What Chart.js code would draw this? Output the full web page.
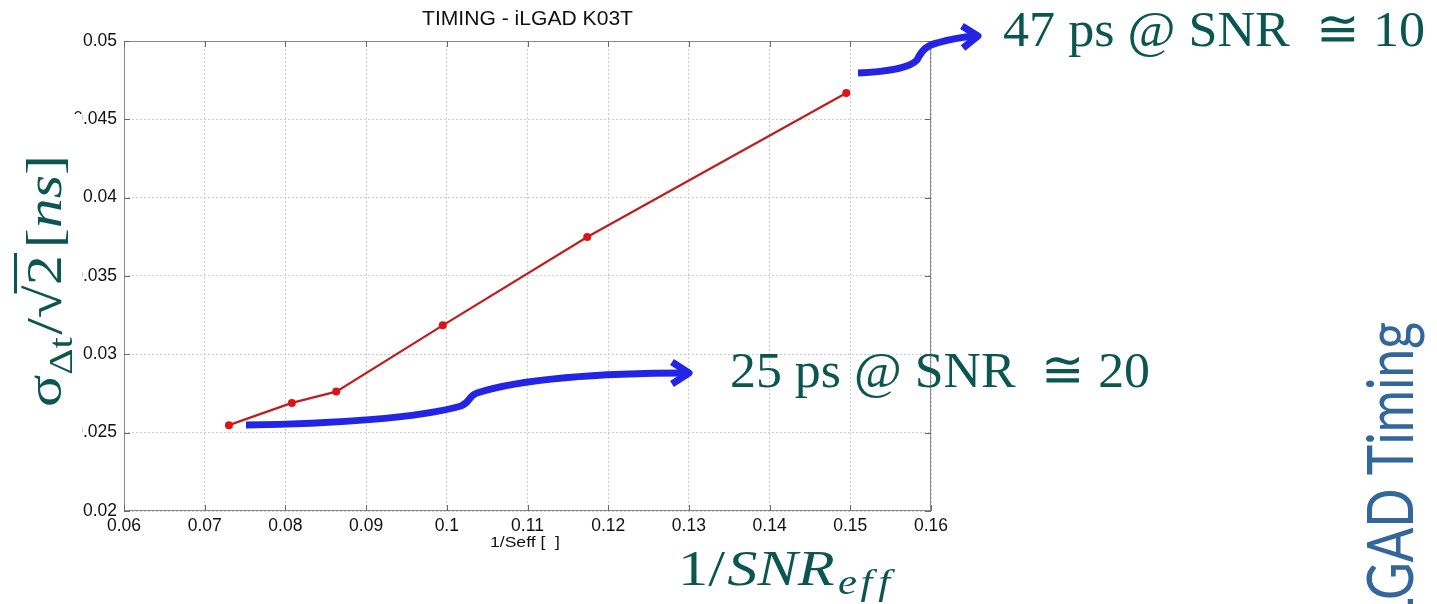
<!DOCTYPE html>
<html><head><meta charset="utf-8">
<script src="https://cdn.jsdelivr.net/npm/chart.js@4.4.1/dist/chart.umd.min.js"></script>
<style>html,body{margin:0;padding:0;background:#fff;overflow:hidden}</style>
</head><body>
<canvas id="c" width="1437" height="604"></canvas>
<script>
// ---- data ----
const invSNR = [0.0730, 0.0808, 0.0863, 0.0995, 0.1174, 0.1495];
const sigmaNs = [0.02548, 0.02690, 0.02762, 0.03185, 0.03749, 0.04668];
const xTickValues = [0.06, 0.07, 0.08, 0.09, 0.10, 0.11, 0.12, 0.13, 0.14, 0.15, 0.16];
const xTickLabels = ['0.06','0.07','0.08','0.09','0.1','0.11','0.12','0.13','0.14','0.15','0.16'];
const yTickValues = [0.02, 0.025, 0.03, 0.035, 0.04, 0.045, 0.05];
const yTickLabels = ['0.02','0.025','0.03','0.035','0.04','0.045','0.05'];
const chartTitle = 'TIMING - iLGAD K03T';
const xAxisTitle = '1/Seff [  ]';
const noteHigh = '47 ps @ SNR  \u2245 10';
const noteLow = '25 ps @ SNR  \u2245 20';
const sideTitle = 'LGAD Timing';

const TEAL = '#0b5651';
const BLUE = '#2424e6';
const SERIF = '"Liberation Serif", "DejaVu Serif", serif';
const SANS = '"Liberation Sans", Arial, sans-serif';

function fitText(ctx, text, x, y, w, align) {
  const m = ctx.measureText(text).width;
  ctx.save();
  ctx.translate(x, y);
  ctx.scale(w / m, 1);
  ctx.textAlign = align;
  ctx.fillText(text, 0, 0);
  ctx.restore();
}

function drawPieces(ctx, pieces, targetW) {
  let total = 0;
  pieces.forEach(p => { ctx.font = p.font; p.w = ctx.measureText(p.t).width; total += p.w + (p.gap || 0); });
  const s = targetW / total;
  ctx.save();
  ctx.scale(s, 1);
  let x = 0;
  pieces.forEach(p => {
    ctx.font = p.font;
    ctx.textAlign = 'left';
    ctx.fillText(p.t, x, p.dy || 0);
    x += p.w + (p.gap || 0);
    p.end = x;
  });
  ctx.restore();
  return {s, pieces};
}

const decor = {
  id: 'decor',
  afterDraw(chart) {
    const ctx = chart.ctx;
    const a = chart.chartArea;
    const xs = chart.scales.x, ys = chart.scales.y;

    // white patch behind big y label
    ctx.save();
    ctx.fillStyle = '#fff';
    ctx.fillRect(0, 114, 82, 332);
    ctx.restore();

    // frame + inward ticks
    ctx.save();
    ctx.strokeStyle = '#8a8a8a';
    ctx.lineWidth = 1;
    ctx.strokeRect(a.left + 0.5, a.top + 0.5, a.right - a.left - 1, a.bottom - a.top - 1);
    ctx.strokeStyle = '#6a6a6a';
    ctx.beginPath();
    xTickValues.forEach(v => {
      const px = Math.round(xs.getPixelForValue(v)) + 0.5;
      ctx.moveTo(px, a.bottom); ctx.lineTo(px, a.bottom - 6);
      ctx.moveTo(px, a.top); ctx.lineTo(px, a.top + 6);
    });
    yTickValues.forEach(v => {
      const py = Math.round(ys.getPixelForValue(v)) + 0.5;
      ctx.moveTo(a.left, py); ctx.lineTo(a.left + 6, py);
      ctx.moveTo(a.right, py); ctx.lineTo(a.right - 6, py);
    });
    ctx.stroke();
    ctx.restore();

    // plot title and small x title
    ctx.save();
    ctx.fillStyle = '#111';
    ctx.textBaseline = 'alphabetic';
    ctx.font = '21px ' + SANS;
    fitText(ctx, chartTitle, (a.left + a.right) / 2, 25, 211, 'center');
    ctx.font = '15px ' + SANS;
    fitText(ctx, xAxisTitle, 490, 547, 70, 'left');
    ctx.restore();

    // annotations
    ctx.save();
    ctx.fillStyle = TEAL;
    ctx.textBaseline = 'alphabetic';
    ctx.font = '51px ' + SERIF;
    fitText(ctx, noteHigh, 1003, 46, 422, 'left');
    fitText(ctx, noteLow, 730, 387, 420, 'left');
    ctx.restore();

    // 1/SNR_eff
    ctx.save();
    ctx.fillStyle = TEAL;
    ctx.translate(678, 585);
    drawPieces(ctx, [
      {t: '1/', font: '51px ' + SERIF, gap: 2},
      {t: 'SNR', font: 'italic 51px ' + SERIF, gap: 3},
      {t: 'e', font: 'italic 36px ' + SERIF, dy: 9, gap: 3},
      {t: 'f', font: 'italic 36px ' + SERIF, dy: 9, gap: 5},
      {t: 'f', font: 'italic 36px ' + SERIF, dy: 9}
    ], 212);
    ctx.restore();

    // big rotated y label
    ctx.save();
    ctx.fillStyle = TEAL;
    ctx.translate(61, 407);
    ctx.rotate(-Math.PI / 2);
    const F = 50;
    const pcs = [
      {t: '\u03C3', font: F + 'px ' + SERIF},
      {t: '\u0394t', font: Math.round(F * 0.68) + 'px ' + SERIF, dy: 11, gap: 2},
      {t: '/', font: F + 'px ' + SERIF},
      {t: '\u221A', font: F + 'px ' + SERIF},
      {t: '2', font: F + 'px ' + SERIF, gap: 6},
      {t: '[', font: F + 'px ' + SERIF},
      {t: 'ns', font: 'italic ' + F + 'px ' + SERIF},
      {t: ']', font: F + 'px ' + SERIF}
    ];
    const r = drawPieces(ctx, pcs, 252);
    const rad = pcs[3], two = pcs[4];
    const barStart = (rad.end - rad.w * 0.25) * r.s;
    const barEnd = (two.end - 4) * r.s;
    ctx.fillRect(barStart, -47, barEnd - barStart, 3);
    ctx.restore();

    // side title (rotated, partially off-canvas)
    ctx.save();
    ctx.fillStyle = '#33679c';
    ctx.font = '400 64px Lato, "Open Sans", sans-serif';
    const sScale = 278 / ctx.measureText('GAD Timing').width;
    ctx.translate(1413, 322);
    ctx.rotate(-Math.PI / 2);
    ctx.scale(sScale, 1);
    ctx.textAlign = 'right';
    ctx.fillText(sideTitle, 0, 0);
    ctx.restore();

    // blue arrows
    ctx.save();
    ctx.strokeStyle = BLUE;
    ctx.lineWidth = 7;
    ctx.lineCap = 'butt';
    ctx.lineJoin = 'round';
    ctx.beginPath();
    ctx.moveTo(246, 425);
    ctx.bezierCurveTo(330, 424, 420, 418, 461, 406);
    ctx.bezierCurveTo(471, 402, 468, 396, 477, 393);
    ctx.bezierCurveTo(520, 379, 600, 373, 686, 373);
    ctx.stroke();
    ctx.beginPath();
    ctx.moveTo(672, 362); ctx.lineTo(689, 373); ctx.lineTo(672, 384);
    ctx.stroke();

    ctx.beginPath();
    ctx.moveTo(858, 73);
    ctx.bezierCurveTo(885, 72, 910, 68, 917, 60);
    ctx.bezierCurveTo(921, 52, 925, 46, 937, 43);
    ctx.bezierCurveTo(950, 39, 963, 37, 976, 36);
    ctx.stroke();
    ctx.beginPath();
    ctx.moveTo(962, 26); ctx.lineTo(978, 36); ctx.lineTo(963, 48);
    ctx.stroke();
    ctx.restore();
  }
};

const bg = {
  id: 'bg',
  beforeDraw(chart) {
    const ctx = chart.ctx;
    ctx.save(); ctx.fillStyle = '#fff'; ctx.fillRect(0, 0, chart.width, chart.height); ctx.restore();
  }
};

new Chart(document.getElementById('c'), {
  type: 'scatter',
  data: {
    datasets: [{
      data: invSNR.map((x, i) => ({x, y: sigmaNs[i]})),
      showLine: true,
      borderColor: '#c01e1e',
      borderWidth: 2.2,
      pointRadius: 4,
      pointBackgroundColor: '#dd1414',
      pointBorderColor: '#dd1414',
      pointBorderWidth: 0
    }]
  },
  options: {
    responsive: false,
    devicePixelRatio: 1,
    animation: false,
    layout: {padding: {left: 0, top: 41, right: 506, bottom: 0}},
    plugins: {legend: {display: false}, title: {display: false}, tooltip: {enabled: false}},
    scales: {
      x: {
        type: 'linear', min: 0.06, max: 0.16,
        afterBuildTicks: s => { s.ticks = xTickValues.map(v => ({value: v})); },
        afterFit: s => { s.height = 93; },
        grid: {color: '#cdcdcd', lineWidth: 1, drawTicks: false},
        border: {display: false, dash: [2, 2]},
        ticks: {
          padding: 5, color: '#111', font: {family: 'Liberation Sans', size: 17.5},
          maxRotation: 0, autoSkip: false,
          callback: (v, i) => xTickLabels[i]
        }
      },
      y: {
        type: 'linear', min: 0.02, max: 0.05,
        afterBuildTicks: s => { s.ticks = yTickValues.map(v => ({value: v})); },
        afterFit: s => { s.width = 124; },
        grid: {color: '#cdcdcd', lineWidth: 1, drawTicks: false},
        border: {display: false, dash: [2, 2]},
        ticks: {
          padding: 7, color: '#111', font: {family: 'Liberation Sans', size: 17.5},
          autoSkip: false,
          callback: (v, i) => yTickLabels[i]
        }
      }
    }
  },
  plugins: [bg, decor]
});
</script>
</body></html>
